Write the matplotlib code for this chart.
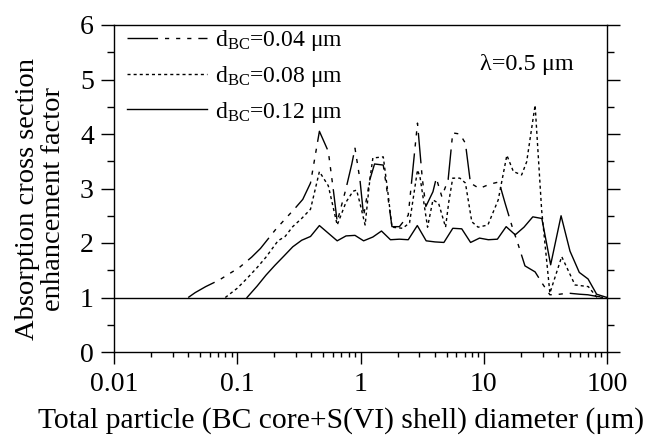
import matplotlib
matplotlib.use("Agg")
import matplotlib.pyplot as plt
from matplotlib.ticker import FixedLocator, NullFormatter, LogLocator

plt.rcParams['font.family'] = ['Liberation Serif', 'DejaVu Serif']
plt.rcParams['mathtext.fontset'] = 'custom'
plt.rcParams['mathtext.rm'] = 'Liberation Serif'
plt.rcParams['mathtext.it'] = 'Liberation Serif:italic'
plt.rcParams['lines.scale_dashes'] = False

# ---- data ----
d004 = [0.04, 0.0456, 0.0555, 0.0713, 0.1039, 0.1308, 0.1543, 0.2035, 0.2446, 0.29, 0.34, 0.393, 0.464, 0.548,
        0.6, 0.647, 0.763, 0.85, 0.902, 0.99, 1.06, 1.19, 1.3, 1.53, 1.66, 1.8, 2.07, 2.44, 2.9, 3.17, 3.39,
        3.87, 4.12, 4.57, 5.14, 5.6, 6.4, 7.1, 7.8, 9.2, 11.2, 13.3, 14.9, 17.0, 19.1, 21.6, 26.1, 30.0, 34.4,
        41.2, 48.5, 60.0, 70.0, 82.4, 100]
v004 = [1.00, 1.09, 1.20, 1.32, 1.55, 1.74, 1.90, 2.24, 2.44, 2.62, 2.80, 3.10, 4.05, 3.68,
        3.00, 2.39, 3.00, 3.45, 3.74, 3.16, 2.50, 3.16, 3.45, 3.43, 2.88, 2.30, 2.30, 2.51, 4.20, 3.19, 2.67,
        2.94, 3.19, 2.85, 3.16, 4.02, 4.00, 3.83, 3.10, 3.00, 3.08, 3.12, 2.73, 2.30, 1.96, 1.58, 1.47, 1.25, 1.05,
        1.06, 1.08, 1.06, 1.05, 1.02, 1.00]

d008 = [0.08, 0.1, 0.12, 0.145, 0.171, 0.214, 0.2446, 0.282, 0.333, 0.393, 0.464, 0.548, 0.647, 0.763, 0.87,
        0.93, 0.99, 1.09, 1.19, 1.26, 1.53, 1.67, 1.8, 2.2, 2.5, 2.9, 3.04, 3.5, 3.87, 4.3, 4.9, 5.2, 5.6, 6.4,
        7.1, 8.0, 9.0, 10.8, 13.1, 15.4, 17.4, 20.3, 22.3, 26.1, 29.5, 34.4, 42.9, 55.0, 70.5, 82.4, 100]
v008 = [1.00, 1.17, 1.35, 1.55, 1.74, 2.04, 2.12, 2.30, 2.45, 2.62, 3.31, 3.05, 2.33, 2.75, 2.95,
        2.97, 2.73, 2.33, 3.16, 3.56, 3.58, 2.92, 2.29, 2.27, 2.37, 3.34, 3.21, 2.29, 2.79, 2.73, 2.29, 2.75, 3.19, 3.19,
        3.10, 2.39, 2.29, 2.33, 2.79, 3.61, 3.31, 3.25, 3.49, 4.53, 2.60, 1.08, 1.75, 1.23, 1.20, 1.01, 1.00]

d012 = [0.12, 0.145, 0.171, 0.202, 0.239, 0.282, 0.333, 0.393, 0.464, 0.548, 0.647, 0.763, 0.902,
        1.06, 1.26, 1.48, 1.75, 2.07, 2.44, 2.89, 3.41, 4.02, 4.75, 5.61, 6.63, 7.82, 9.24, 10.9, 12.9, 15.2,
        18.0, 21.2, 25.0, 29.6, 34.9, 42.4, 50.1, 59.6, 70.2, 82.4, 100]
v012 = [1.00, 1.21, 1.41, 1.59, 1.76, 1.93, 2.05, 2.12, 2.32, 2.18, 2.04, 2.13, 2.14,
        2.04, 2.11, 2.22, 2.06, 2.07, 2.06, 2.32, 2.04, 2.02, 2.01, 2.27, 2.26, 2.01, 2.09, 2.06, 2.07, 2.30,
        2.15, 2.29, 2.48, 2.45, 1.60, 2.50, 1.85, 1.46, 1.34, 1.06, 1.00]

labels = [r'd$_{\rm BC}$=0.04 μm', r'd$_{\rm BC}$=0.08 μm', r'd$_{\rm BC}$=0.12 μm']
xticks = [0.01, 0.1, 1, 10, 100]
xticklabels = ['0.01', '0.1', '1', '10', '100']
yticks = [0, 1, 2, 3, 4, 5, 6]
yminor = [0.5, 1.5, 2.5, 3.5, 4.5, 5.5]

FS_TICK = 20
FS_XLAB = 21.3
FS_YLAB = 20.5
FS_LEG = 17
FS_NOTE = 17.5

fig = plt.figure(figsize=(6.54, 4.38), dpi=100)
ax = fig.add_axes([114/654, 1-352/438, (607-114)/654, (352-25)/438])

lw = 1.0
ax.plot(d004, v004, color='black', lw=lw, dashes=(22, 5, 3, 5, 3, 5, 3, 5), label=labels[0])
ax.plot(d008, v008, color='black', lw=lw, dashes=(2.2, 2.2), label=labels[1])
ax.plot(d012, v012, color='black', lw=lw, label=labels[2])
ax.axhline(1.0, color='black', lw=1.0)

ax.set_xscale('log')
ax.set_xlim(0.01, 100)
ax.set_ylim(0, 6)
ax.set_xticks(xticks)
ax.set_xticklabels(xticklabels)
ax.xaxis.set_minor_locator(LogLocator(base=10, subs=range(2, 10)))
ax.xaxis.set_minor_formatter(NullFormatter())
ax.set_yticks(yticks)
ax.yaxis.set_minor_locator(FixedLocator(yminor))

ax.tick_params(axis='x', which='major', direction='out', length=8.6, width=1, labelsize=FS_TICK, pad=6)
ax.tick_params(axis='x', which='minor', direction='out', length=3.5, width=1)
ax.tick_params(axis='y', which='major', direction='out', length=9.5, width=1, labelsize=FS_TICK, pad=5,
               left=True, right=True)
ax.tick_params(axis='y', which='minor', direction='out', length=5, width=1, left=True, right=True)
for s in ax.spines.values():
    s.set_linewidth(1.0)

fig.text(341.5/654, 1-434/438, 'Total particle (BC core+S(VI) shell) diameter (μm)', fontsize=FS_XLAB,
         ha='center', va='bottom')
fig.text(40.5/654, 1-199/438, 'Absorption cross section\nenhancement factor', fontsize=FS_YLAB,
         rotation=90, ha='center', va='center', multialignment='center', linespacing=1.08)

ax.text(9.3, 5.17, 'λ=0.5 μm', fontsize=FS_NOTE, va='baseline', ha='left')

leg = ax.legend(loc='upper left', frameon=False, fontsize=FS_LEG, handlelength=3.4, handletextpad=0.34,
                labelspacing=0.45, borderaxespad=0.0, borderpad=0.0, bbox_to_anchor=(0.026, 0.99))

fig.savefig('out.png', dpi=100)
